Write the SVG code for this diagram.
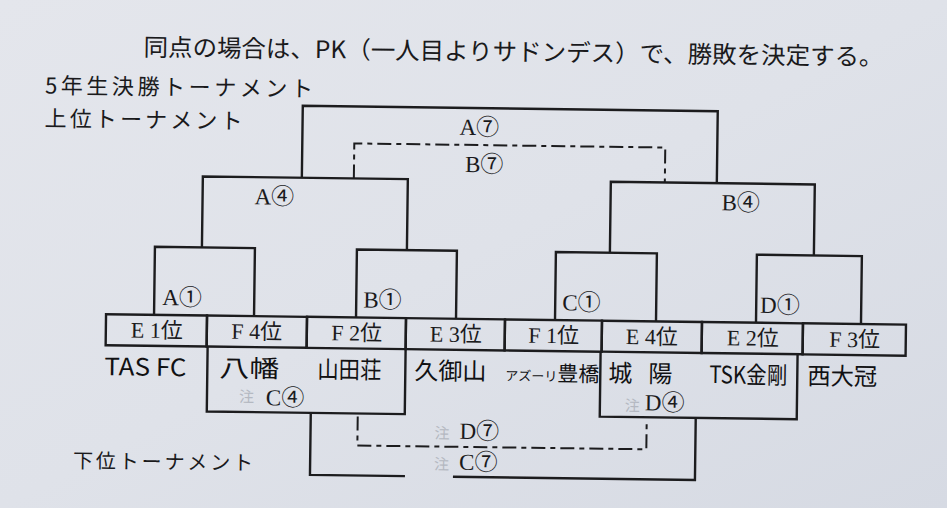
<svg xmlns="http://www.w3.org/2000/svg" width="947" height="508" viewBox="0 0 947 508">
<defs>
<linearGradient id="paper" x1="0" y1="0" x2="1" y2="1">
<stop offset="0" stop-color="#e4e6ec"/>
<stop offset="0.5" stop-color="#dfe2e9"/>
<stop offset="1" stop-color="#d6dae3"/>
</linearGradient>
<style>
.ln{fill:none;stroke:#1c1c1e;stroke-width:2.4;stroke-linejoin:miter}
.dash{fill:none;stroke:#1c1c1e;stroke-width:2;stroke-dasharray:14 5 5 5}
.cell{fill:none;stroke:#1c1c1e;stroke-width:2.4}
.hd{font-family:"Noto Sans CJK JP","Noto Sans",sans-serif;fill:#1a1a1c}
.lb{font-family:"Liberation Serif","Noto Sans CJK JP",serif;font-size:23px;fill:#1a1a1c}
.cd{font-family:"Noto Sans CJK JP",sans-serif;font-size:23px}
.cl{font-family:"Liberation Serif","Noto Sans CJK JP",serif;font-size:22px;fill:#1a1a1c;text-anchor:middle}
.tm{font-family:"Noto Sans CJK JP","Noto Sans",sans-serif;font-size:24px;fill:#111113}
.fn{font-family:"Noto Sans CJK JP",sans-serif;font-size:15px;fill:#b4b8c1}
</style>
</defs>
<rect width="947" height="508" fill="url(#paper)"/>
<g transform="rotate(0.75 473 320)">
<g id="title">
<text class="hd" x="140" y="60" font-size="24" textLength="740" lengthAdjust="spacingAndGlyphs">同点の場合は、PK（一人目よりサドンデス）で、勝敗を決定する。</text>
</g>
<g id="heading-5nen">
<text class="hd" x="42" y="99" font-size="22" textLength="268" lengthAdjust="spacing">5年生決勝トーナメント</text>
</g>
<g id="heading-upper">
<text class="hd" x="42" y="132" font-size="22" textLength="198" lengthAdjust="spacing">上位トーナメント</text>
</g>
<g id="heading-lower">
<text class="hd" x="75" y="473" font-size="20" textLength="180" lengthAdjust="spacing">下位トーナメント</text>
</g>

<g id="connectors">
<polyline class="ln" points="300,180 300,108 715,108 715,180"/>
<polyline class="dash" points="352,180 352,145 663,145 663,180"/>
<polyline class="ln" points="201,251 201,180 406,180 406,251"/>
<polyline class="ln" points="609,251 609,180 813,180 813,251"/>
<polyline class="ln" points="154,319 154,251 254,251 254,319"/>
<polyline class="ln" points="356,319 356,251 456,251 456,319"/>
<polyline class="ln" points="555,319 555,251 656,251 656,319"/>
<polyline class="ln" points="756,319 756,251 861,251 861,319"/>
<polyline class="ln" points="208,350 208,415 406,415 406,350"/>
<polyline class="ln" points="601,350 601,415 798,415 798,350"/>
<polyline class="ln" points="312,415 312,477 407,477"/>
<polyline class="ln" points="455,477 697,477 697,415"/>
<polyline class="dash" points="359,418 359,447 648,447 648,420"/>
</g>

<g id="match-A7"><text class="lb" x="457" y="135">A<tspan class="cd">⑦</tspan></text></g>
<g id="match-B7"><text class="lb" x="463" y="172">B<tspan class="cd">⑦</tspan></text></g>
<g id="match-A4"><text class="lb" x="253" y="207">A<tspan class="cd">④</tspan></text></g>
<g id="match-B4"><text class="lb" x="720" y="207">B<tspan class="cd">④</tspan></text></g>
<g id="match-A1"><text class="lb" x="162" y="309">A<tspan class="cd">①</tspan></text></g>
<g id="match-B1"><text class="lb" x="363" y="309">B<tspan class="cd">①</tspan></text></g>
<g id="match-C1"><text class="lb" x="562" y="309">C<tspan class="cd">①</tspan></text></g>
<g id="match-D1"><text class="lb" x="760" y="309">D<tspan class="cd">①</tspan></text></g>
<g id="match-C4"><text class="fn" x="240" y="405">注</text><text class="lb" x="267" y="408">C<tspan class="cd">④</tspan></text></g>
<g id="match-D4"><text class="fn" x="626" y="409">注</text><text class="lb" x="646" y="408">D<tspan class="cd">④</tspan></text></g>
<g id="match-D7"><text class="fn" x="436" y="439">注</text><text class="lb" x="461" y="439">D<tspan class="cd">⑦</tspan></text></g>
<g id="match-C7"><text class="fn" x="436" y="470">注</text><text class="lb" x="461" y="470">C<tspan class="cd">⑦</tspan></text></g>

<g id="seed-E1"><rect class="cell" x="106" y="319" width="101" height="31"/><text class="cl" x="157" y="342">E 1位</text></g>
<g id="seed-F4"><rect class="cell" x="207" y="319" width="100" height="31"/><text class="cl" x="257" y="342">F 4位</text></g>
<g id="seed-F2"><rect class="cell" x="307" y="319" width="99" height="31"/><text class="cl" x="357" y="342">F 2位</text></g>
<g id="seed-E3"><rect class="cell" x="406" y="319" width="99" height="31"/><text class="cl" x="456" y="342">E 3位</text></g>
<g id="seed-F1"><rect class="cell" x="505" y="319" width="97" height="31"/><text class="cl" x="554" y="342">F 1位</text></g>
<g id="seed-E4"><rect class="cell" x="602" y="319" width="100" height="31"/><text class="cl" x="652" y="342">E 4位</text></g>
<g id="seed-E2"><rect class="cell" x="702" y="319" width="101" height="31"/><text class="cl" x="753" y="342">E 2位</text></g>
<g id="seed-F3"><rect class="cell" x="803" y="319" width="103" height="31"/><text class="cl" x="855" y="342">F 3位</text></g>

<g id="team-TASFC"><text class="tm" x="105" y="380" textLength="82" lengthAdjust="spacingAndGlyphs">TAS FC</text></g>
<g id="team-yawata"><text class="tm" x="220" y="380" font-size="27" textLength="60" lengthAdjust="spacingAndGlyphs">八幡</text></g>
<g id="team-yamadasho"><text class="tm" x="318" y="380" textLength="64" lengthAdjust="spacingAndGlyphs">山田荘</text></g>
<g id="team-kumiyama"><text class="tm" x="415" y="380" textLength="72" lengthAdjust="spacingAndGlyphs">久御山</text></g>
<g id="team-azzurri"><text class="tm" x="506" y="380"><tspan font-size="13">アズーリ</tspan><tspan font-size="21">豊橋</tspan></text></g>
<g id="team-joyo"><text class="tm" x="609" y="380" textLength="64" lengthAdjust="spacing">城 陽</text></g>
<g id="team-tsk"><text class="tm" x="710" y="380" textLength="78" lengthAdjust="spacingAndGlyphs">TSK金剛</text></g>
<g id="team-nishiotori"><text class="tm" x="808" y="380" textLength="70" lengthAdjust="spacingAndGlyphs">西大冠</text></g>
</g>
</svg>
